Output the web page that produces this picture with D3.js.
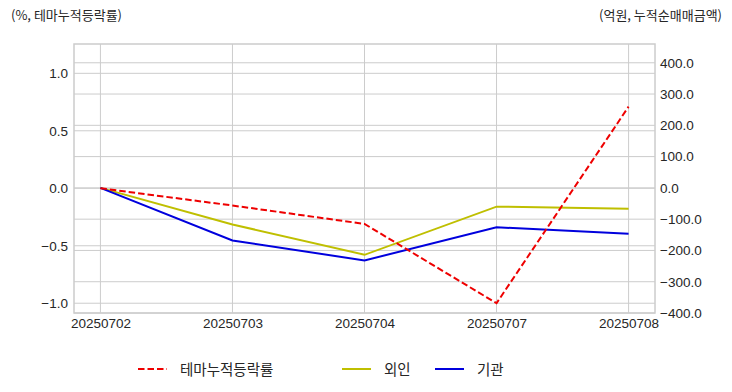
<!DOCTYPE html>
<html><head><meta charset="utf-8">
<script src="https://cdn.jsdelivr.net/npm/d3@7"></script>
<style>
html,body{margin:0;padding:0;background:#fff;}
svg{display:block;font-family:"Liberation Sans","Noto Sans CJK KR",sans-serif;}
</style></head>
<body><svg id="c" width="732" height="392"></svg>
<script>
const categories = ["20250702","20250703","20250704","20250707","20250708"];
const themeReturn = [0.0, -0.15, -0.31, -1.0, 0.71];
const foreignNet = [0.0, -117, -214, -60, -67];
const instNet = [0.0, -168, -232, -126, -147];
const leftTicks = [-1.0, -0.5, 0.0, 0.5, 1.0];
const rightTicks = [-400, -300, -200, -100, 0, 100, 200, 300, 400];
const seriesNames = ["테마누적등락률", "외인", "기관"];
const leftTitle = "(%, 테마누적등락률)";
const rightTitle = "(억원, 누적순매매금액)";

const svg = d3.select("#c");
const L = 74, R = 655, T = 44, B = 313;
const x = d3.scaleLinear().domain([-0.2, categories.length - 1 + 0.2]).range([L, R]);
const yL = d3.scaleLinear().domain([-1.085, 1.255]).range([B, T]);
const yR = d3.scaleLinear().domain([-400, 460]).range([B, T]);
const grid = "#cccccc", txt = "#262626";

// grids
const g = svg.append("g");
g.selectAll(".vg").data(categories).join("line")
  .attr("x1", (d,i)=>x(i)).attr("x2", (d,i)=>x(i)).attr("y1", T).attr("y2", B)
  .attr("stroke", grid).attr("stroke-width", 1);
g.selectAll(".hl").data(leftTicks).join("line")
  .attr("x1", L).attr("x2", R).attr("y1", d=>yL(d)).attr("y2", d=>yL(d))
  .attr("stroke", grid).attr("stroke-width", 1);
g.selectAll(".hr").data(rightTicks).join("line")
  .attr("x1", L).attr("x2", R).attr("y1", d=>yR(d)).attr("y2", d=>yR(d))
  .attr("stroke", grid).attr("stroke-width", 1);
svg.append("rect").attr("x", L).attr("y", T).attr("width", R-L).attr("height", B-T)
  .attr("fill","none").attr("stroke", grid).attr("stroke-width", 1.5);

// axes
const axL = d3.axisLeft(yL).tickValues(leftTicks).tickFormat(d3.format(".1f")).tickSize(0).tickPadding(6);
const axR = d3.axisRight(yR).tickValues(rightTicks).tickFormat(d3.format(".1f")).tickSize(0).tickPadding(5);
const axB = d3.axisBottom(x).tickValues(d3.range(categories.length)).tickFormat(i=>categories[i]).tickSize(0).tickPadding(5);
function style(sel){ sel.select(".domain").remove(); sel.selectAll("text").attr("fill", txt).style("font-size","13.5px").style("font-family","'Liberation Sans',sans-serif"); }
svg.append("g").attr("transform",`translate(${L},0)`).call(axL).call(style);
svg.append("g").attr("transform",`translate(${R},0)`).call(axR).call(style);
svg.append("g").attr("transform",`translate(0,${B})`).call(axB).call(style);

// lines
const lineL = d3.line().x((d,i)=>x(i)).y(d=>yL(d));
const lineR = d3.line().x((d,i)=>x(i)).y(d=>yR(d));
svg.append("path").datum(foreignNet).attr("d", lineR).attr("fill","none").attr("stroke","#bfbf00").attr("stroke-width",2);
svg.append("path").datum(instNet).attr("d", lineR).attr("fill","none").attr("stroke","#0000dd").attr("stroke-width",2);
svg.append("path").datum(themeReturn).attr("d", lineL).attr("fill","none").attr("stroke","#ee0000").attr("stroke-width",2).attr("stroke-dasharray","6.5,3");

// titles
svg.append("text").attr("x", 11).attr("y", 20).text(leftTitle).attr("fill", txt).style("font-size","13px").style("font-family","'Noto Sans CJK KR',sans-serif");
svg.append("text").attr("x", 722).attr("y", 20).attr("text-anchor","end").text(rightTitle).attr("fill", txt).style("font-size","13px").style("font-family","'Noto Sans CJK KR',sans-serif");

// legend
const leg = [
  {name: seriesNames[0], color:"#ee0000", dash:"6.5,3", x:138},
  {name: seriesNames[1], color:"#bfbf00", dash:null, x:342},
  {name: seriesNames[2], color:"#0000dd", dash:null, x:435}
];
const lg = svg.append("g");
leg.forEach(s=>{
  lg.append("line").attr("x1", s.x).attr("x2", s.x+29).attr("y1", 369).attr("y2", 369)
    .attr("stroke", s.color).attr("stroke-width", 2).attr("stroke-dasharray", s.dash);
  lg.append("text").attr("x", s.x+42).attr("y", 374.5).text(s.name).attr("fill", txt)
    .style("font-size","14.5px").style("font-family","'Noto Sans CJK KR',sans-serif");
});
</script></body></html>
